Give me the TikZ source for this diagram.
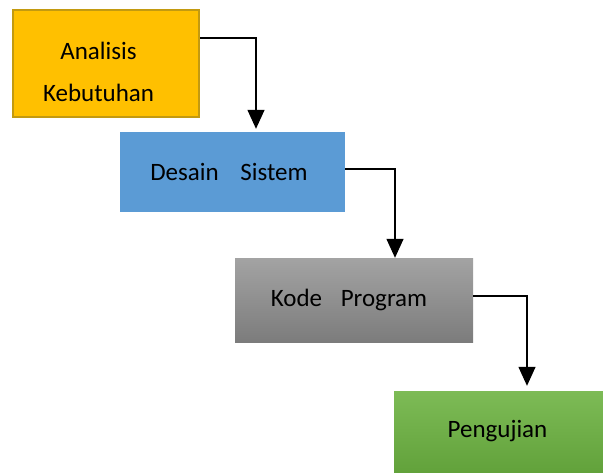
\documentclass[tikz,border=0pt]{standalone}
\usepackage{fontspec}
\setmainfont{Carlito}
\usetikzlibrary{arrows.meta}
\definecolor{orangefill}{HTML}{FFC000}
\definecolor{orangeedge}{HTML}{C39A10}
\definecolor{bluefill}{HTML}{5B9BD5}
\definecolor{graytop}{HTML}{A3A3A3}
\definecolor{graybot}{HTML}{7C7C7C}
\definecolor{greentop}{HTML}{7DBB56}
\definecolor{greenbot}{HTML}{62A23B}
\tikzset{
  box/.style={rectangle, inner sep=0pt, font=\fontsize{25}{42}\selectfont, align=center, text=black},
  flow/.style={line width=1.4pt, -{Triangle[width=17pt,length=19pt]}},
}
\begin{document}
\begin{tikzpicture}[x=1pt,y=-1pt]
\useasboundingbox (0,0) rectangle (603,472);
\node[box, fill=orangefill, draw=orangeedge, line width=2pt, minimum width=186pt, minimum height=107pt] (b1) at (106,63.5) {};
\node[box] (t1) at (98.5,72) {Analisis\\Kebutuhan};
\node[box, fill=bluefill, minimum width=225pt, minimum height=80pt] (b2) at (232.5,172) {Desain\hspace{16pt} Sistem\hspace{7pt}};
\node[box, shade, top color=graytop, bottom color=graybot, minimum width=238pt, minimum height=84pt] (b3) at (354,300) {Kode\hspace{13pt} Program\hspace{10pt}};
\node[box, shade, top color=greentop, bottom color=greenbot, minimum width=209pt, minimum height=81pt] (b4) at (498.5,431.5) {Pengujian\hspace{2pt}};
\draw[flow, shorten >=3pt] ([yshift=-29pt]b1.north east) -| ([xshift=23.5pt]b2.north);
\draw[flow] ([yshift=3pt]b2.east) -| ([xshift=41pt]b3.north);
\draw[flow, shorten >=5pt] ([yshift=4pt]b3.east) -| ([xshift=28.5pt]b4.north);
\end{tikzpicture}
\end{document}
